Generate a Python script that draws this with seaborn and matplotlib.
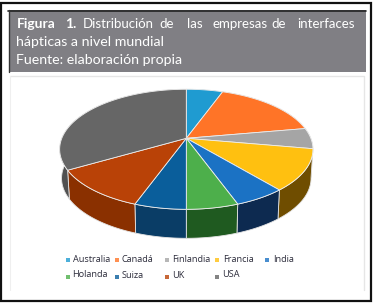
"""
    Figura 1: pie 3D with perspective
"""
import numpy as np
import seaborn as sns
import matplotlib.pyplot as plt
from matplotlib.patches import Rectangle

paises = ['Australia', 'Canadá', 'Finlandia', 'Francia', 'India', 'Holanda', 'Suiza', 'UK', 'USA']
empresas = [1, 3, 1, 2, 1, 1, 1, 2, 6]
colores = ['#1F9BD1', '#FF7427', '#A5A5A5', '#FFC010', '#1B72C4', '#4DAF4B', '#0A5E9B', '#B94207', '#666666']
lados = ['#14688C', '#A84C18', '#6E6E6E', '#6F4D00', '#0D2A50', '#1F5A20', '#0A3D66', '#8A3000', '#505050']
palabras = ['Distribución', 'de', 'las', 'empresas', 'de', 'interfaces']

sns.set_theme(style='white')
plt.rcParams['font.family'] = ['Open Sans', 'DejaVu Sans']

fig = plt.figure(figsize=(3.74, 3.04), dpi=100)
ax = fig.add_axes([0, 0, 1, 1])
ax.set_xlim(0, 374)
ax.set_ylim(304, 0)
ax.axis('off')

# marco
ax.add_patch(Rectangle((1.5, 2.5), 369.5, 298, fc='white', ec='#111111', lw=1.6))
ax.add_patch(Rectangle((9, 10), 357, 62, fc='#807F84', ec='none'))
ax.plot([8, 366], [10.5, 10.5], color='#222222', lw=1.2)
ax.plot([9.5, 9.5], [10, 72], color='#333333', lw=1)
ax.plot([10.5, 364, 364], [76, 76, 290], color='#E6E6E6', lw=1)
ax.plot([10.5, 10.5], [76, 290], color='#EFEFEF', lw=0.8)

# titulo, primera linea justificada
ax.text(16.7, 23.5, 'Figura', color='white', fontsize=10, fontweight='bold', va='center', family='Lato')
ax.text(65, 23.5, '1.', color='white', fontsize=10, fontweight='bold', va='center', family='Lato')
for x, p in zip([82.7, 159.3, 187.3, 212.3, 271, 297.7], palabras):
    ax.text(x, 23.5, p, color='white', fontsize=9.5, va='center', family='Lato')
ax.text(16.5, 42, 'hápticas a nivel mundial', color='white', fontsize=10.2, va='center', family='Lato')
ax.text(16.5, 60, 'Fuente: elaboración propia', color='white', fontsize=10.2, va='center', family='Lato')

# proyeccion de la tarta, circulo unidad a pixeles
cx, cy = 186.3, 138.3
k, a, b = 0.183, 58, 124.5


def proyecta(ang, esc=1.0, dy=0.0):
    u, v = np.sin(ang), np.cos(ang)
    d = 1 + k * v
    return cx + esc * b * u / d, cy - a * v / d + dy


fin = np.cumsum(empresas) / np.sum(empresas) * 2 * np.pi
ini = np.r_[0, fin[:-1]]

# lados, los de atras quedan tapados por la cara superior
for a0, a1, c in zip(ini, fin, lados):
    t = np.linspace(a0, a1, 60)
    xs, ys = proyecta(t)
    xb, yb = proyecta(t, 0.985, 29)
    ax.fill(np.r_[xs, xb[::-1]], np.r_[ys, yb[::-1]], fc=c, ec='#E4E4E4', lw=0.6)

# cara superior
for a0, a1, c in zip(ini, fin, colores):
    t = np.linspace(a0, a1, 60)
    xs, ys = proyecta(t)
    ax.fill(np.r_[cx, xs], np.r_[cy, ys], fc=c, ec='#EDEDED', lw=0.6)

# leyenda
mark_x = [67.7, 117.3, 167, 217.3, 267, 67.7, 117.3, 167, 217.3]
mark_y = [260, 260, 260, 260, 260, 276.7, 276.7, 276.7, 276.7]
text_x = [73.3, 122, 171.7, 222.7, 272.7, 72.3, 121.7, 172, 222.3]
text_y = [259, 259, 259, 259, 259, 274.7, 276, 275.3, 274.3]
for i, p in enumerate(paises):
    ax.scatter([mark_x[i]], [mark_y[i]], s=5, marker='s', color=colores[i], alpha=0.8, linewidths=0)
    ax.text(text_x[i], text_y[i], p, fontsize=6.6, color='#2B2B3A', va='center')

plt.savefig('out.png', dpi=100)
